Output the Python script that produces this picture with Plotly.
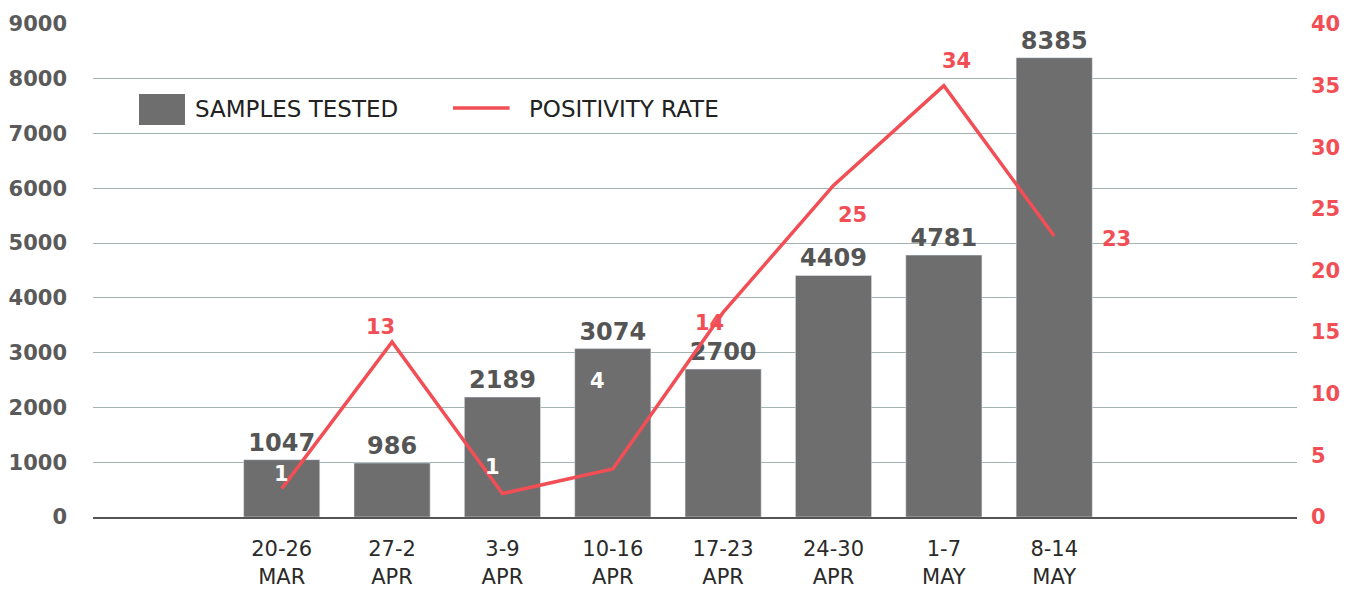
import plotly.graph_objects as go

categories = ["20-26<br>MAR", "27-2<br>APR", "3-9<br>APR", "10-16<br>APR",
              "17-23<br>APR", "24-30<br>APR", "1-7<br>MAY", "8-14<br>MAY"]
samples_tested = [1047, 986, 2189, 3074, 2700, 4409, 4781, 8385]
positivity_rate = [2.3, 14.2, 1.9, 3.9, 16.6, 26.9, 35.0, 22.8]
positivity_labels = ["1", "13", "1", "4", "14", "25", "34", "23"]
left_ticks = [0, 1000, 2000, 3000, 4000, 5000, 6000, 7000, 8000, 9000]
right_ticks = [0, 5, 10, 15, 20, 25, 30, 35, 40]

FONT = "DejaVu Sans"
BAR = "#6e6e6e"
RED = "#f24e55"

# label placement styles (pixel shifts) and colours for rate labels
label_shift = [(0, 15), (-12, 15), (-10, 27), (-15, 88), (-14, -11), (19, -30), (13, 25), (62, -3)]
label_color = ["white", RED, "white", "white", RED, RED, RED, RED]

fig = go.Figure()
fig.add_trace(go.Bar(
    x=categories, y=samples_tested, marker_color=BAR, width=0.69,
    text=[str(v) for v in samples_tested], textposition="outside",
    textfont=dict(family=FONT, size=24, color="#555555", weight=600),
    cliponaxis=False, showlegend=False, name="SAMPLES TESTED"))
fig.add_trace(go.Scatter(
    x=categories, y=positivity_rate, yaxis="y2", mode="lines",
    line=dict(color=RED, width=3.5), showlegend=False, name="POSITIVITY RATE"))

for i, (c, r, lab) in enumerate(zip(categories, positivity_rate, positivity_labels)):
    dx, dy = label_shift[i]
    fig.add_annotation(x=c, y=r, yref="y2", text=lab, showarrow=False,
                       xshift=dx, yshift=dy,
                       font=dict(family=FONT, size=21, color=label_color[i], weight=700))

# custom legend
fig.add_shape(type="rect", xref="paper", yref="paper", x0=0.0382, x1=0.0764, y0=0.795, y1=0.858,
              fillcolor=BAR, line_width=0)
fig.add_annotation(xref="paper", yref="paper", x=0.0831, y=0.8276, xanchor="left", yanchor="middle",
                   text="SAMPLES TESTED", showarrow=False,
                   font=dict(family=FONT, size=23, color="#222222", weight=500))
fig.add_shape(type="line", xref="paper", yref="paper", x0=0.299, x1=0.346, y0=0.8296, y1=0.8296,
              line=dict(color=RED, width=3.5))
fig.add_annotation(xref="paper", yref="paper", x=0.3605, y=0.8276, xanchor="left", yanchor="middle",
                   text="POSITIVITY RATE", showarrow=False,
                   font=dict(family=FONT, size=23, color="#222222", weight=500))

fig.update_layout(
    width=1347, height=581, plot_bgcolor="white", paper_bgcolor="white",
    margin=dict(l=85, r=58, t=16, b=72, autoexpand=False),
    xaxis=dict(type="category", range=[-1.71, 9.2], showline=True, linecolor="#555555",
               linewidth=2, showgrid=False, ticks="", automargin=False, ticklabelstandoff=12,
               tickfont=dict(family=FONT, size=21, color="#2a2a2a")),
    yaxis=dict(range=[0, 9000], tickvals=left_ticks, showgrid=True, gridcolor="#a3b2b2",
               gridwidth=1.3, zeroline=False, ticklabelstandoff=25, automargin=False,
               tickfont=dict(family=FONT, size=21, color="#5a5a5a", weight=700)),
    yaxis2=dict(range=[0, 40], tickvals=right_ticks, overlaying="y", side="right",
                showgrid=False, zeroline=False, ticklabelstandoff=13, automargin=False,
                tickfont=dict(family=FONT, size=21, color=RED, weight=700)),
    bargap=0.3,
)

fig.write_html("out.html")
